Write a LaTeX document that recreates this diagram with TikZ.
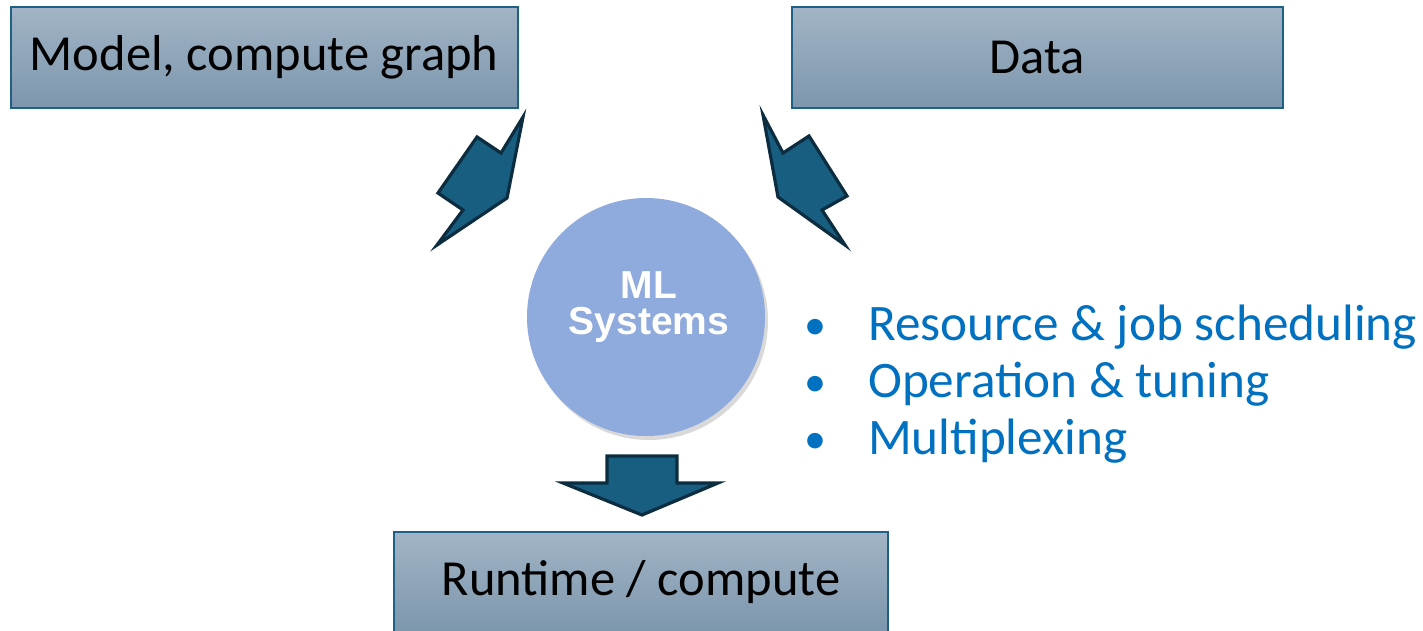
\documentclass[tikz,border=0pt]{standalone}
\usepackage{fontspec}
\setmainfont{Carlito}
\newfontfamily\arialbold{Liberation Sans}[BoldFont={* Bold}]
\usetikzlibrary{shadows}
\definecolor{boxtop}{RGB}{162,180,197}
\definecolor{boxbot}{RGB}{124,150,173}
\definecolor{boxline}{RGB}{31,96,135}
\definecolor{arrfill}{RGB}{24,94,128}
\definecolor{arrline}{RGB}{12,44,64}
\definecolor{circfill}{RGB}{143,170,220}
\definecolor{bullblue}{RGB}{0,112,192}
\tikzset{
  boxnode/.style={rectangle, draw=boxline, line width=2pt, top color=boxtop, bottom color=boxbot,
    inner sep=0pt, font=\fontsize{50.5}{60}\selectfont, text=black},
  blockarrow/.style={fill=arrfill, draw=arrline, line width=3.2pt, line join=miter},
  bulletdot/.style={anchor=base, text=bullblue, font=\fontsize{44}{60}\selectfont, inner sep=0pt},
  bullettext/.style={anchor=base west, text=bullblue, font=\fontsize{51.2}{60}\selectfont, inner sep=0pt},
  mltext/.style={text=white, font=\arialbold\bfseries\fontsize{39}{36}\selectfont, inner sep=0pt, anchor=base}
}
\begin{document}
\begin{tikzpicture}[x=1pt,y=-1pt]
\useasboundingbox (0,0) rectangle (1423,631);
% boxes
\node[boxnode, minimum width=507pt, minimum height=101pt] (model) at (264,57.5) {Model, compute graph};
\node[boxnode, minimum width=491pt, minimum height=101pt] (data) at (1037.5,57.5) {Data};
\node[boxnode, minimum width=494pt, minimum height=100pt] (runtime) at (641,582) {Runtime / compute};
% circle
\node[circle, fill=circfill, minimum size=238pt, inner sep=0pt,
  drop shadow={opacity=0.3, shadow xshift=3pt, shadow yshift=-4pt}] (ml) at (646,317) {};
\node[mltext] (ml1) at (649,298) {ML};
\node[mltext] (ml2) at (649,334) {Systems};
% block arrows
\draw[blockarrow] (523,117) -- (501,153) -- (477,137) -- (438,193) -- (463,210) -- (437,245) -- (507,198) -- cycle;
\draw[blockarrow] (763,115) -- (783,153) -- (809,136) -- (847,196) -- (822,210) -- (845,245) -- (778,197) -- cycle;
\draw[blockarrow] (607,456) -- (677,456) -- (677,483) -- (718,483) -- (642,515) -- (563,483) -- (607,483) -- cycle;
% bullets
\node[bulletdot] (b1) at (815,339) {•};
\node[bullettext] (t1) at (868,340) {Resource \& job scheduling};
\node[bulletdot] (b2) at (815,396) {•};
\node[bullettext] (t2) at (868,397) {Operation \& tuning};
\node[bulletdot] (b3) at (815,453) {•};
\node[bullettext] (t3) at (868,454) {Multiplexing};
\end{tikzpicture}
\end{document}
